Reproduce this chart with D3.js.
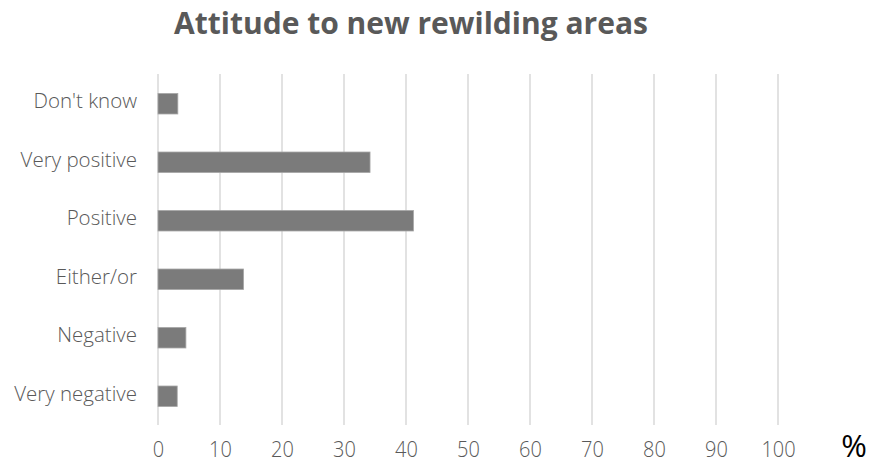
<!DOCTYPE html>
<html><head><meta charset="utf-8">
<script src="https://cdn.jsdelivr.net/npm/d3@7"></script>
<style>body{margin:0;background:#fff;} svg{display:block;}</style>
</head><body>
<script>
const categories = ["Don't know","Very positive","Positive","Either/or","Negative","Very negative"];
const values = [3.2, 34.2, 41.2, 13.8, 4.5, 3.1];
const xTicks = [0,10,20,30,40,50,60,70,80,90,100];
const title = "Attitude to new rewilding areas";
const unit = "%";

const W = 872, H = 464;
const svg = d3.select("body").append("svg").attr("width", W).attr("height", H);
const font = "'Open Sans', 'Noto Sans', sans-serif";

const x = d3.scaleLinear().domain([0, 100]).range([158, 778]);
const y = d3.scaleBand().domain(categories).range([74.5, 425.5]).paddingInner(0.65).paddingOuter(0.325);

// gridlines
svg.append("g").selectAll("line").data(xTicks).join("line")
  .attr("x1", d => x(d)).attr("x2", d => x(d))
  .attr("y1", 74).attr("y2", 425)
  .attr("stroke", "#d9d9d9").attr("stroke-width", 1.5);

// bars
svg.append("g").selectAll("rect").data(values).join("rect")
  .attr("x", x(0))
  .attr("y", (d, i) => y(categories[i]))
  .attr("width", d => x(d) - x(0))
  .attr("height", y.bandwidth())
  .attr("fill", "#7b7b7b")
  .attr("stroke", "#a6a6a6").attr("stroke-width", 0.8);

// x axis labels
const xa = d3.axisBottom(x).tickValues(xTicks).tickSize(0).tickPadding(0);
const gx = svg.append("g").attr("transform", "translate(0,457)").call(xa);
gx.select(".domain").remove();
gx.selectAll("text").attr("font-family", font).attr("font-weight", 300).attr("font-size", 21.5)
  .attr("fill", "#595959").attr("dy", 0).attr("y", 0).attr("transform", "scale(0.93,1)");

// y axis labels
const ya = d3.axisLeft(y).tickSize(0).tickPadding(0);
const gy = svg.append("g").attr("transform", "translate(137,0)").call(ya);
gy.select(".domain").remove();
gy.selectAll("text").attr("font-family", font).attr("font-weight", 300).attr("font-size", 20.5)
  .attr("fill", "#595959").attr("dy", "0.22em");

// unit
svg.append("text").attr("x", 854).attr("y", 456.5).attr("text-anchor", "middle")
  .attr("font-family", font).attr("font-size", 31).attr("fill", "#000").text(unit);

// title
svg.append("text").attr("x", 411).attr("y", 34).attr("text-anchor", "middle")
  .attr("font-family", font).attr("font-weight", "bold").attr("font-size", 30).attr("fill", "#595959").text(title);
</script>
</body></html>
